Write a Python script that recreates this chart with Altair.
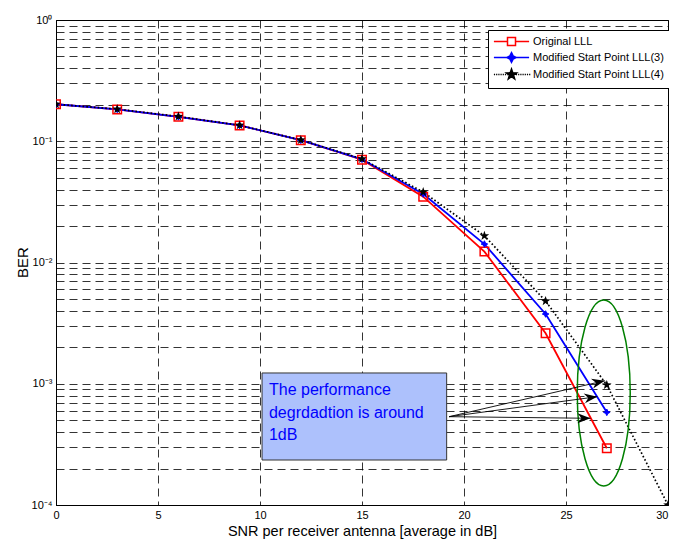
import math
import altair as alt
import pandas as pd

# ---------------- data ----------------
names = ["Original LLL", "Modified Start Point LLL(3)", "Modified Start Point LLL(4)"]
snr_a = [0, 3, 6, 9, 12, 15, 18, 21, 24, 27]
ber_orig = [0.202, 0.183, 0.159, 0.135, 0.102, 0.0705, 0.0349, 0.0123, 0.00261, 0.000294]
ber_m3 = [0.202, 0.183, 0.159, 0.135, 0.102, 0.0710, 0.0367, 0.0142, 0.00376, 0.000581]
snr_b = [0, 3, 6, 9, 12, 15, 18, 21, 24, 27, 30]
ber_m4 = [0.202, 0.184, 0.160, 0.1355, 0.1025, 0.0715, 0.0381, 0.0166, 0.00481, 0.000977, 0.0001]

x_ticks = [0, 5, 10, 15, 20, 25, 30]
y_grid = [m * 10.0 ** k for k in range(-4, 0) for m in range(1, 10)] + [1.0]

colors = ["#ff0000", "#0000ff", "#000000"]
FONT = "Liberation Sans"

df_o = pd.DataFrame({"snr": snr_a, "ber": ber_orig, "series": names[0]})
df_3 = pd.DataFrame({"snr": snr_a, "ber": ber_m3, "series": names[1]})
df_4 = pd.DataFrame({"snr": snr_b, "ber": ber_m4, "series": names[2]})
df_all = pd.concat([df_o, df_3, df_4], ignore_index=True)

# annotation geometry (data coordinates)
df_box = pd.DataFrame({"snr": [10.1], "snr2": [19.15], "ber": [0.001227], "ber2": [0.000235]})
df_txt = pd.DataFrame({"snr": [10.44], "ber": [8.88e-4]})
df_ell = pd.DataFrame({"snr": [26.85], "ber": [8.39e-4]})
df_arr = pd.DataFrame({
    "snr": [19.27, 19.27, 19.27],
    "ber": [5.35e-4, 5.35e-4, 5.35e-4],
    "snr2": [26.9, 26.53, 26.2],
    "ber2": [1.059e-3, 7.82e-4, 5.19e-4],
})
df_head = pd.DataFrame({"snr": [26.9, 26.53, 26.2], "ber": [1.059e-3, 7.82e-4, 5.19e-4],
                        "ang": [347.2, 352.4, 0.6]})

# ---------------- shapes ----------------
def star_path(ro, ri, n=5):
    pts = []
    for i in range(2 * n):
        r = ro if i % 2 == 0 else ri
        a = -math.pi / 2 + i * math.pi / n
        pts.append((r * math.cos(a), r * math.sin(a)))
    return "M" + "L".join(f"{x:.3f},{y:.3f}" for x, y in pts) + "Z"

four_star = "M0,-1.2L0.4,-0.4L1.2,0L0.4,0.4L0,1.2L-0.4,0.4L-1.2,0L-0.4,-0.4Z"
dots = "".join(f"M{-4.4 + i * 0.55:.2f},0h0.3" for i in range(17))
legend_paths = [
    "M-4.4,0H-1M1,0H4.4M-1,-1H1V1H-1Z",
    "M-4.4,0H4.4" + four_star,
    dots + star_path(1.35, 0.55),
]
ellipse_path = "M0,-1A0.285,1 0 1,1 0,1A0.285,1 0 1,1 0,-1Z"
head_path = "M0,0L-2.6,-1L-1.8,0L-2.6,1Z"

# ---------------- scales / axes ----------------
exp = "round(log(datum.value)/LN10)"
label_expr = (
    f"abs(log(datum.value)/LN10 - {exp}) < 0.001 ? "
    f"('10' + ({exp} == 0 ? '⁰' : {exp} == -1 ? '⁻¹' : {exp} == -2 ? '⁻²' : {exp} == -3 ? '⁻³' : '⁻⁴')) : ''"
)

x_axis = alt.Axis(values=x_ticks, grid=True, gridDash=[8, 5], gridColor="#000000", gridWidth=0.8,
                  ticks=False, labelPadding=4, labelFontSize=11, labelFont=FONT, labelColor="#000",
                  labelFlush=False, labelBound=False,
                  labelAlign={"condition": {"test": "datum.value == 30", "value": "right"}, "value": "center"},
                  title="SNR per receiver antenna [average in dB]", titleFont=FONT, titleFontSize=14.5,
                  titleFontWeight="normal", titleColor="#000", titleX=306, titleY=26,
                  titleBaseline="middle", domainColor="#000", domainWidth=1)
y_axis = alt.Axis(values=y_grid, grid=True, gridDash=[8, 5], gridColor="#000000", gridWidth=0.8,
                  ticks=False, labelPadding=4, labelFontSize=11, labelFont=FONT, labelColor="#000",
                  labelExpr=label_expr, labelOverlap=False, labelBound=False, labelFlush=False,
                  title="BER", titleFont=FONT, titleFontSize=15, titleFontWeight="normal",
                  titleColor="#000", titleX=-34, titleY=242, titleBaseline="middle",
                  domainColor="#000", domainWidth=1)

xs = alt.Scale(domain=[0, 30], nice=False, zero=False)
ys = alt.Scale(type="log", domain=[1e-4, 1], nice=False)
X = alt.X("snr:Q", scale=xs, axis=x_axis)
Y = alt.Y("ber:Q", scale=ys, axis=y_axis)

# ---------------- layers ----------------
grid_base = alt.Chart(df_all).mark_point(opacity=0).encode(x=X, y=Y)

box = alt.Chart(df_box).mark_rect(fill="#adc1fc", stroke="#333333", strokeWidth=1).encode(
    x=X, y=Y, x2="snr2:Q", y2="ber2:Q")
txt = alt.Chart(df_txt).mark_text(
    text=["The performance", "degrdadtion is around", "1dB"], align="left", baseline="middle",
    fontSize=16, lineHeight=22.5, color="#0000ff", font=FONT).encode(x=X, y=Y)

line_o = alt.Chart(df_o).mark_line(color=colors[0], strokeWidth=1.8, clip=True).encode(x=X, y=Y)
line_3 = alt.Chart(df_3).mark_line(color=colors[1], strokeWidth=1.8, clip=True).encode(x=X, y=Y)
line_4 = alt.Chart(df_4).mark_line(color=colors[2], strokeWidth=1.7, strokeDash=[1.6, 2.2],
                                   clip=True).encode(x=X, y=Y)

pts_o = alt.Chart(df_o).mark_point(shape="square", size=72, filled=False, color=colors[0],
                                   strokeWidth=1.5, opacity=1, clip=True).encode(x=X, y=Y)
pts_3 = alt.Chart(df_3).mark_point(shape=four_star, size=30, filled=True, color=colors[1],
                                   stroke=colors[1], strokeWidth=1, opacity=1, clip=True).encode(x=X, y=Y)
pts_4 = alt.Chart(df_4).mark_point(shape=star_path(1.35, 0.55), size=56, filled=True, color=colors[2],
                                   opacity=1, clip=True).encode(x=X, y=Y)

ell = alt.Chart(df_ell).mark_point(shape=ellipse_path, size=186 * 186, filled=False, color="#008000",
                                   strokeWidth=1.5, opacity=1).encode(x=X, y=Y)

arrows = alt.Chart(df_arr).mark_rule(color="#000000", strokeWidth=0.9).encode(
    x=X, y=Y, x2="snr2:Q", y2="ber2:Q")
heads = alt.Chart(df_head).mark_point(shape=head_path, size=100, filled=True, color="#000000",
                                      opacity=1).encode(x=X, y=Y, angle=alt.Angle("ang:Q", scale=None))

leg = alt.Legend(title=None, orient="none", legendX=432, legendY=10, padding=6,
                 strokeColor="#000000", fillColor="#ffffff", cornerRadius=0,
                 labelFont=FONT, labelFontSize=11, labelColor="#000",
                 symbolSize=64, symbolStrokeWidth=1.5, symbolOffset=12, labelOffset=16,
                 rowPadding=0)
legend_layer = alt.Chart(df_all).transform_filter("datum.snr > 1000").mark_point(
    size=64, strokeWidth=1.5, opacity=1).encode(
    x=X, y=Y,
    color=alt.Color("series:N", scale=alt.Scale(domain=names, range=colors), legend=leg),
    fill=alt.Fill("series:N", scale=alt.Scale(domain=names, range=["transparent", colors[1], colors[2]]),
                  legend=leg),
    shape=alt.Shape("series:N", scale=alt.Scale(domain=names, range=legend_paths), legend=leg),
)

chart = alt.layer(
    grid_base, box, txt, line_o, line_3, line_4, pts_o, pts_3, pts_4, ell, arrows, heads, legend_layer
).properties(
    width=612, height=485,
    autosize=alt.AutoSizeParams(type="none"),
    padding={"left": 48, "top": 12, "right": 1, "bottom": 35},
    background="white",
).configure_view(stroke="#000000", strokeWidth=1)

chart.save("out.html", embed_options={"renderer": "svg", "actions": False})
